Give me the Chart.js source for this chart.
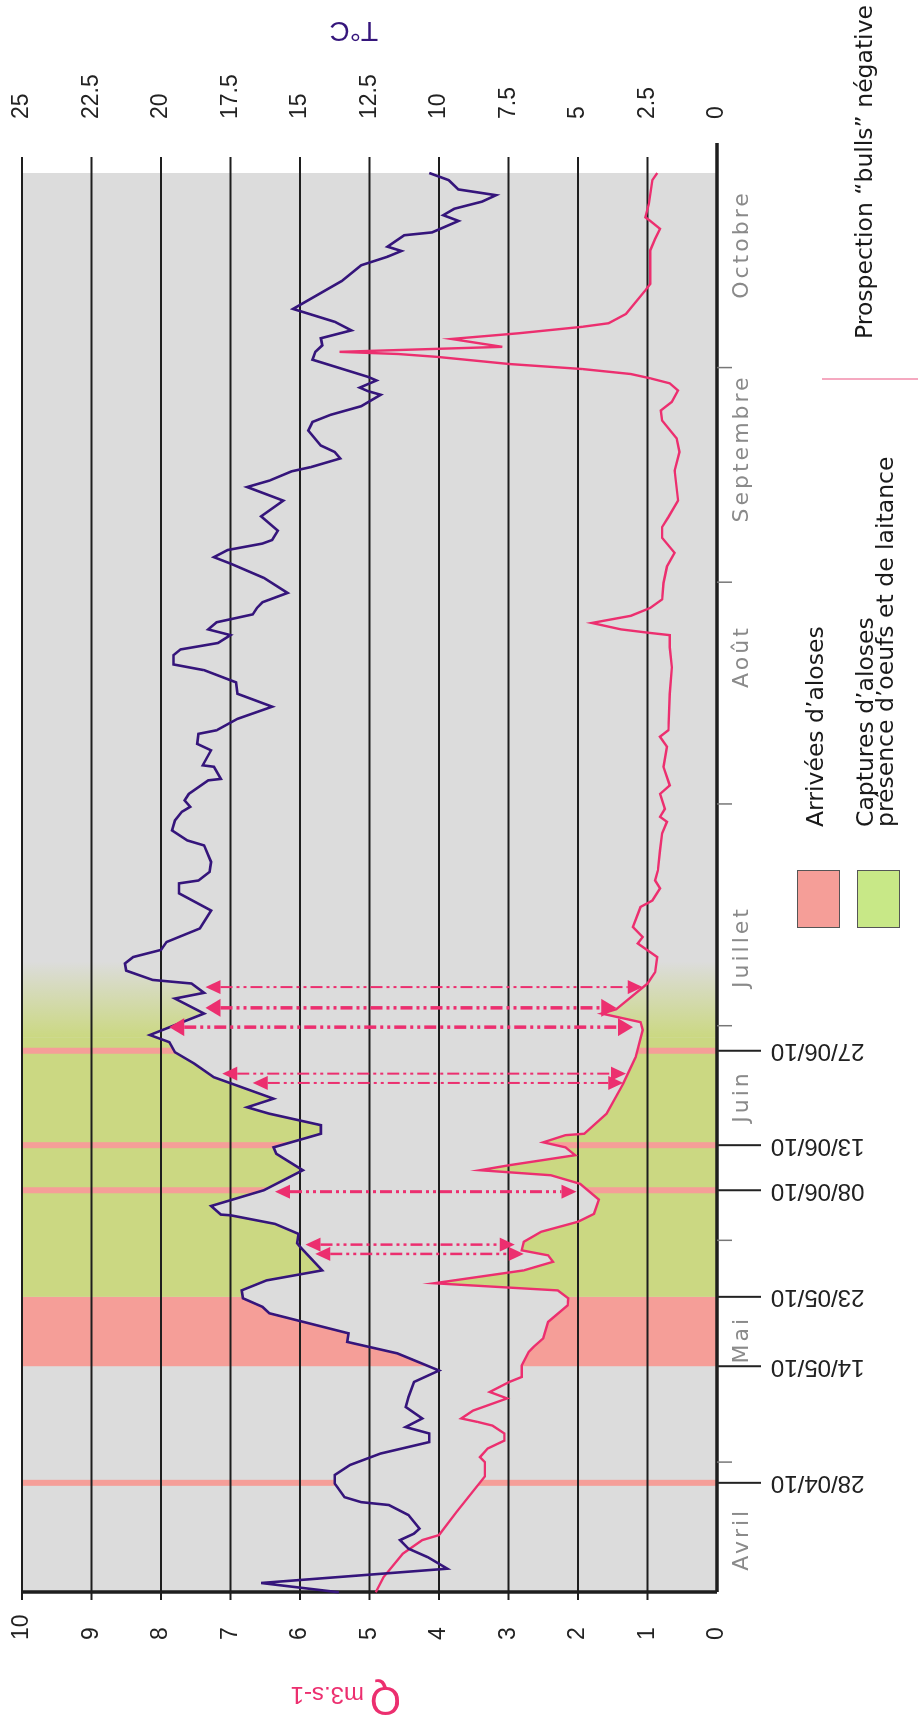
<!DOCTYPE html>
<html>
<head>
<meta charset="utf-8">
<script src="https://cdn.jsdelivr.net/npm/chart.js@4.4.1/dist/chart.umd.min.js"></script>
<style>
  html, body { margin: 0; padding: 0; background: #fff; width: 919px; height: 1722px; overflow: hidden; }
  /* chart is drawn landscape then turned a quarter to the left */
  #wrap { position: absolute; left: 0; top: 0; width: 1722px; height: 919px; transform-origin: 0 0; transform: translateY(1722px) rotate(-90deg); }
</style>
</head>
<body>
<div id="wrap"><canvas id="myChart" width="1722" height="919"></canvas></div>
<script>
// days counted from 01/04/2010 (= day 0)
const tempDays = [11.8,13.1,15.1,16.7,17.9,19.1,20.0,20.7,22.6,24.0,24.4,25.1,27.0,28.2,29.6,31.2,32.8,34.0,34.9,36.1,37.7,39.1,41.2,42.8,45.2,46.8,48.0,50.8,51.7,52.9,54.0,55.4,56.8,60.1,60.6,61.9,63.3,64.5,64.6,65.8,68.0,70.8,73.1,74.0,75.9,77.1,78.7,79.6,80.8,83.8,85.7,87.3,88.7,89.7,92.7,94.8,95.6,96.9,97.4,98.7,99.7,100.6,101.6,102.7,104.6,107.1,109.5,110.9,111.3,112.5,113.9,116.2,116.9,118.3,119.7,120.9,121.6,122.5,123.4,125.3,125.5,127.2,127.4,129.5,130.4,131.8,132.3,133.9,135.6,137.4,139.0,140.7,141.5,142.8,143.6,144.5,145.6,146.4,147.4,148.5,149.4,150.2,151.5,153.6,155.6,156.5,157.5,158.4,158.9,160.2,162.2,164.4,166.3,167.2,168.5,169.1,170.3,171.2,172.1,174.2,175.4,176.4,177.6,179.2,179.7,180.2,181.2,181.7,184.1,185.2,186.1,187.1,188.2,189.4,191.2,195.1,197.3,198.5,199.3,199.9,201.5,201.9,203.5,204.3,205.2,206.2,207.1,207.9,209.2,210.2,212.7];
const tempValues = [13.6,16.4,9.7,10.4,11.1,11.4,10.9,10.7,11.1,11.8,12.8,13.4,13.75,13.75,13.2,12.1,10.35,10.35,11.2,10.6,11.2,11.1,10.9,10.0,11.5,13.3,13.25,16.1,16.35,17.05,17.1,16.2,14.2,15.0,15.1,15.05,15.9,17.5,17.85,18.2,16.3,14.9,15.85,15.95,14.25,14.25,16.1,16.9,15.95,18.1,18.8,19.5,19.7,20.4,18.45,19.5,18.45,18.9,20.3,21.25,21.3,21.0,20.0,19.8,18.6,18.2,19.35,19.35,18.65,18.25,18.2,18.45,19.05,19.6,19.5,19.25,18.95,19.15,19.0,18.3,17.85,18.1,18.5,18.2,18.7,18.65,18.0,17.25,16.0,17.25,17.3,18.45,19.55,19.55,19.3,17.95,17.5,18.3,18.0,16.7,16.55,16.35,15.45,16.3,17.5,18.1,17.6,16.35,16.0,15.8,16.4,15.6,16.9,16.1,15.3,14.6,13.55,13.75,14.25,14.7,14.55,13.9,12.8,12.1,12.55,12.85,12.25,12.55,14.55,14.45,14.2,14.25,13.15,13.75,15.25,13.5,12.8,11.85,11.35,11.85,11.25,10.25,9.3,9.85,9.45,8.45,7.95,9.3,9.65,10.35,11.05];
const flowDays = [11.8,13.9,17.2,19.1,19.8,23.0,28.0,30.0,30.7,31.9,33.0,34.0,35.1,35.6,36.1,37.2,38.9,39.8,41.2,41.9,43.5,45.4,46.1,47.3,49.6,51.9,52.9,54.0,55.0,56.8,58.0,58.9,59.6,60.8,62.2,63.6,64.7,66.7,68.9,70.1,70.8,71.5,72.9,74.0,74.7,75.7,75.9,78.7,82.9,86.6,90.4,91.5,92.7,93.3,96.9,98.5,100.6,102.5,103.4,104.8,107.6,108.5,110.2,111.3,112.7,115.5,117.9,119.5,120.2,121.3,123.4,124.6,127.2,130.0,131.4,132.3,137.4,141.1,143.9,145.6,145.9,146.4,147.3,148.3,149.4,150.6,152.9,155.2,157.1,159.2,160.7,162.1,164.4,168.6,171.2,173.1,175.6,177.0,178.2,179.8,180.8,181.5,182.1,182.8,183.5,184.5,184.9,185.2,185.9,187.0,187.8,188.7,189.2,190.5,193.8,194.7,199.4,201.0,202.4,203.5,204.0,205.9,209.2,210.2,211.0,212.7];
const flowValues = [4.91,4.80,4.52,4.24,4.0,3.75,3.34,3.34,3.41,3.30,3.06,3.06,3.23,3.44,3.68,3.51,3.02,3.27,2.99,2.81,2.81,2.71,2.64,2.50,2.43,2.15,2.14,2.29,4.07,2.78,2.36,2.43,2.81,2.78,2.53,2.0,1.77,1.70,1.97,2.39,3.41,2.99,2.04,2.18,2.50,2.18,1.91,1.59,1.35,1.17,1.07,1.10,1.66,1.45,1.0,0.89,0.86,1.14,1.07,1.21,1.10,0.93,0.82,0.89,0.85,0.82,0.79,0.72,0.82,0.75,0.82,0.68,0.77,0.72,0.82,0.70,0.68,0.65,0.68,0.68,0.96,1.38,1.80,1.24,0.96,0.79,0.77,0.72,0.61,0.79,0.79,0.70,0.56,0.61,0.54,0.58,0.79,0.81,0.65,0.56,0.68,0.96,1.24,1.94,2.99,4.03,4.59,5.43,3.09,3.82,2.85,1.94,1.56,1.31,1.03,0.96,0.96,0.89,0.82,0.96,1.03,0.98,0.93,0.86,1.03,0.96];

const flowTicks = [0, 1, 2, 3, 4, 5, 6, 7, 8, 9, 10];
const tempTicks = ["0", "2.5", "5", "7.5", "10", "12.5", "15", "17.5", "20", "22.5", "25"];
const monthLabels = ["Avril", "Mai", "Juin", "Juillet", "Août", "Septembre", "Octobre"];
const monthLabelDays = [19.2, 47.1, 81.1, 102, 142.6, 171.7, 200.2];
const monthStartDays = [30, 61, 91, 122, 153, 183];
const dateLabels = ["28/04/10", "14/05/10", "23/05/10", "08/06/10", "13/06/10", "27/06/10"];
const dateDays = [27.1, 43.4, 53.1, 68.0, 74.3, 87.5];
const surveyDays = [27.1, 68.0, 74.3, 87.5];
const arrivalPeriod = [43.4, 53.1];
const capturePeriod = [53.1, 89.4];
const captureFadeEnd = 100;
const arrowDays = [59.1, 60.4, 67.8, 83.0, 84.3, 90.8, 93.5, 96.4];
const arrowTemp = [14.45, 14.8, 15.9, 16.7, 17.8, 19.7, 18.4, 18.4];
const arrowFlow = [2.78, 2.91, 2.02, 1.35, 1.31, 1.21, 1.45, 1.07];
const legendLabels = ["Arrivées d’aloses", "Captures d’aloses", "présence d’oeufs et de laitance", "Prospection \u201Cbulls\u201D négative"];

const arrowWidths = [2.5, 2.5, 3, 2, 2, 3.5, 3.5, 2];
const GRAY = "#dcdcdc";
const GREEN = "#cbd882";
const PINK_BAND = "#f59e98";
const PURPLE = "#35157b";
const PINK = "#ec2f6f";
const NUM_FONT = '"Liberation Sans", Arial, sans-serif';
const TXT_FONT = '"DejaVu Sans", sans-serif';

const line = (ctx, x1, y1, x2, y2) => {
  ctx.beginPath();
  ctx.moveTo(x1, y1);
  ctx.lineTo(x2, y2);
  ctx.stroke();
};

const vText = (ctx, text, x, y, align, baseline) => {
  ctx.save();
  ctx.translate(x, y);
  ctx.rotate(-Math.PI / 2);
  ctx.textAlign = align;
  ctx.textBaseline = baseline;
  ctx.fillText(text, 0, 0);
  ctx.restore();
};

const backdrop = {
  id: "backdrop",
  beforeDatasetsDraw(chart) {
    const { ctx, chartArea: a, scales: { x, yQ } } = chart;
    ctx.save();
    ctx.fillStyle = GRAY;
    ctx.fillRect(a.left, a.top, a.width, a.height);

    const band = (d0, d1, color) => {
      const p0 = x.getPixelForValue(d0);
      const p1 = x.getPixelForValue(d1);
      ctx.fillStyle = color;
      ctx.fillRect(p0, a.top, p1 - p0, a.height);
    };
    band(arrivalPeriod[0], arrivalPeriod[1], PINK_BAND);
    band(capturePeriod[0], capturePeriod[1], GREEN);
    const g0 = x.getPixelForValue(capturePeriod[1]);
    const g1 = x.getPixelForValue(captureFadeEnd);
    const grad = ctx.createLinearGradient(g0, 0, g1, 0);
    grad.addColorStop(0, GREEN);
    grad.addColorStop(1, GRAY);
    band(capturePeriod[1], captureFadeEnd, grad);

    ctx.strokeStyle = PINK_BAND;
    ctx.lineWidth = 6;
    surveyDays.forEach((d) => {
      const p = x.getPixelForValue(d);
      line(ctx, p, a.top, p, a.bottom);
    });

    // river corridor between the two curves stays grey
    const tPts = chart.getDatasetMeta(0).data;
    const qPts = chart.getDatasetMeta(1).data;
    ctx.save();
    ctx.beginPath();
    ctx.rect(a.left, a.top, a.width, a.height);
    ctx.clip();
    ctx.beginPath();
    tPts.forEach((p, i) => (i ? ctx.lineTo(p.x, p.y) : ctx.moveTo(p.x, p.y)));
    for (let i = qPts.length - 1; i >= 0; i--) ctx.lineTo(qPts[i].x, qPts[i].y);
    ctx.closePath();
    ctx.fillStyle = GRAY;
    ctx.fill();
    ctx.restore();

    ctx.strokeStyle = "#1e1e1e";
    ctx.lineWidth = 2;
    flowTicks.slice(1).forEach((v) => {
      const p = yQ.getPixelForValue(v);
      line(ctx, a.left - 8, p, a.right + 16, p);
    });

    ctx.lineWidth = 3.5;
    line(ctx, a.left, a.bottom, a.right + 30, a.bottom);
    line(ctx, a.left, a.top, a.left, a.bottom);

    ctx.strokeStyle = "#777";
    ctx.lineWidth = 1.5;
    monthStartDays.forEach((d) => {
      const p = x.getPixelForValue(d);
      line(ctx, p, a.bottom, p, a.bottom + 15);
    });
    ctx.strokeStyle = "#222";
    ctx.lineWidth = 2;
    dateDays.forEach((d) => {
      const p = x.getPixelForValue(d);
      line(ctx, p, a.bottom, p, a.bottom + 44);
    });
    ctx.restore();
  },
  afterDatasetsDraw(chart) {
    const { ctx, scales: { x, yQ, yT } } = chart;
    ctx.save();
    ctx.strokeStyle = PINK;
    ctx.fillStyle = PINK;
    arrowDays.forEach((d, i) => {
      const px = x.getPixelForValue(d);
      const top = yT.getPixelForValue(arrowTemp[i]);
      const bot = yQ.getPixelForValue(arrowFlow[i]);
      const head = 15;
      const half = arrowWidths[i] > 3 ? 9 : 7;
      ctx.lineWidth = arrowWidths[i];
      ctx.setLineDash([12, 4, 3, 4, 3, 4]);
      line(ctx, px, top + head, px, bot - head);
      ctx.setLineDash([]);
      ctx.beginPath();
      ctx.moveTo(px, top);
      ctx.lineTo(px - half, top + head);
      ctx.lineTo(px + half, top + head);
      ctx.closePath();
      ctx.fill();
      ctx.beginPath();
      ctx.moveTo(px, bot);
      ctx.lineTo(px - half, bot - head);
      ctx.lineTo(px + half, bot - head);
      ctx.closePath();
      ctx.fill();
    });
    ctx.restore();
  },
  afterDraw(chart) {
    const { ctx, chartArea: a, scales: { x, yQ, yT } } = chart;
    ctx.save();
    ctx.fillStyle = "#222";
    ctx.font = "23px " + NUM_FONT;
    ctx.textAlign = "left";
    ctx.textBaseline = "middle";
    flowTicks.forEach((v) => ctx.fillText(String(v), 82, yQ.getPixelForValue(v)));
    tempTicks.forEach((t) => ctx.fillText(t, 1603, yT.getPixelForValue(Number(t))));

    ctx.font = "24px " + NUM_FONT;
    dateLabels.forEach((t, i) => vText(ctx, t, x.getPixelForValue(dateDays[i]), a.bottom + 54, "right", "middle"));

    ctx.fillStyle = "#8a8a8a";
    ctx.font = "22px " + TXT_FONT;
    ctx.letterSpacing = "3px";
    ctx.textAlign = "center";
    ctx.textBaseline = "alphabetic";
    monthLabels.forEach((t, i) => ctx.fillText(t, x.getPixelForValue(monthLabelDays[i]), a.bottom + 31));
    ctx.letterSpacing = "0px";

    // axis titles
    ctx.fillStyle = PINK;
    ctx.font = "40px " + NUM_FONT;
    vText(ctx, "Q", 35, 401, "left", "alphabetic");
    ctx.font = "24px " + NUM_FONT;
    vText(ctx, "m3.s-1", 35, 364, "left", "alphabetic");
    ctx.fillStyle = PURPLE;
    ctx.font = "28px " + NUM_FONT;
    vText(ctx, "T°C", 1700, 378, "left", "alphabetic");

    // legend
    ctx.fillStyle = PINK_BAND;
    ctx.fillRect(794, 797, 57, 42);
    ctx.fillStyle = "#c8e887";
    ctx.fillRect(794, 857, 57, 42);
    ctx.strokeStyle = "#555";
    ctx.lineWidth = 1;
    ctx.strokeRect(794.5, 797.5, 57, 42);
    ctx.strokeRect(794.5, 857.5, 57, 42);
    ctx.strokeStyle = "#f28cab";
    ctx.lineWidth = 1.5;
    line(ctx, 1343, 822, 1343, 918);

    ctx.fillStyle = "#1a1a1a";
    ctx.font = "23.5px " + TXT_FONT;
    ctx.textAlign = "left";
    ctx.fillText(legendLabels[0], 895, 823);
    ctx.fillText(legendLabels[1], 895, 873);
    ctx.fillText(legendLabels[2], 895, 893);
    ctx.fillText(legendLabels[3], 1383, 872);
    ctx.restore();
  }
};

const ctx = document.getElementById("myChart").getContext("2d");
new Chart(ctx, {
  type: "line",
  data: {
    datasets: [
      {
        label: "T°C",
        data: tempDays.map((d, i) => ({ x: d, y: tempValues[i] })),
        yAxisID: "yT",
        borderColor: PURPLE,
        borderWidth: 2.6,
        pointRadius: 0,
        tension: 0,
        clip: false,
      },
      {
        label: "Q m3.s-1",
        data: flowDays.map((d, i) => ({ x: d, y: flowValues[i] })),
        yAxisID: "yQ",
        borderColor: PINK,
        borderWidth: 2.4,
        pointRadius: 0,
        tension: 0,
        clip: false,
      },
    ],
  },
  options: {
    responsive: false,
    animation: false,
    layout: { padding: { left: 130, right: 173, top: 22, bottom: 202 } },
    scales: {
      x: { type: "linear", min: 11.84, max: 210.2, display: false },
      yQ: { min: 0, max: 10, display: false },
      yT: { min: 0, max: 25, display: false },
    },
    plugins: {
      legend: { display: false },
      tooltip: { enabled: false },
    },
  },
  plugins: [backdrop],
});
</script>
</body>
</html>
